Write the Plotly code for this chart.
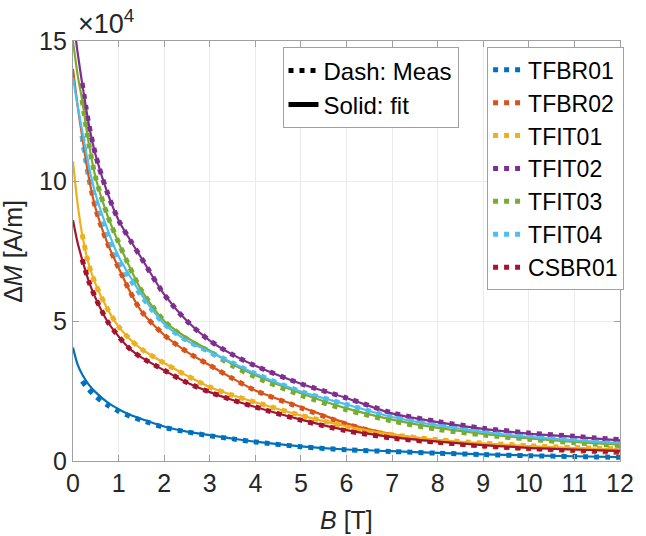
import plotly.graph_objects as go

# ---------------- data (Delta M in units of 1e4 A/m) ----------------
B_fit = [0, 0.1, 0.2, 0.35, 0.5, 0.75, 1, 1.25, 1.5, 2, 2.5, 3, 3.5, 4, 5, 6, 7, 8, 9, 10, 11, 12]
B_meas = [0.2, 0.35, 0.5, 0.75, 1, 1.25, 1.5, 2, 2.5, 3, 3.5, 4, 5, 6, 7, 8, 9, 10, 11, 12]

names = ["TFBR01", "TFBR02", "TFIT01", "TFIT02", "TFIT03", "TFIT04", "CSBR01"]
colors = ["#0072BD", "#D95319", "#EDB120", "#7E2F8E", "#77AC30", "#4DBEEE", "#A2142F"]

fit_TFBR01 = [4.05, 3.45, 3.10, 2.72, 2.45, 2.10, 1.85, 1.65, 1.50, 1.23, 1.05, 0.92, 0.80, 0.69, 0.52, 0.41, 0.35, 0.29, 0.24, 0.20, 0.17, 0.14]
fit_TFBR02 = [14.0, 12.7, 11.6, 10.1, 9.0, 7.8, 6.9, 6.05, 5.35, 4.5, 3.9, 3.42, 2.95, 2.52, 1.93, 1.35, 0.95, 0.74, 0.59, 0.50, 0.42, 0.35]
fit_TFIT01 = [10.7, 9.2, 8.1, 7.0, 6.3, 5.45, 4.8, 4.35, 4.0, 3.5, 3.05, 2.64, 2.35, 2.10, 1.63, 1.24, 0.95, 0.76, 0.63, 0.53, 0.46, 0.41]
fit_TFIT02 = [15.9, 14.6, 13.5, 12.0, 10.9, 9.6, 8.6, 7.9, 7.25, 5.95, 5.0, 4.3, 3.8, 3.4, 2.76, 2.25, 1.70, 1.39, 1.15, 0.98, 0.86, 0.74]
fit_TFIT03 = [15.0, 13.8, 12.9, 11.3, 10.1, 8.8, 7.8, 6.9, 6.1, 5.0, 4.4, 3.95, 3.45, 3.06, 2.42, 1.88, 1.48, 1.18, 0.97, 0.81, 0.68, 0.58]
fit_TFIT04 = [13.7, 12.7, 11.8, 10.5, 9.5, 8.3, 7.3, 6.6, 5.95, 4.9, 4.3, 3.9, 3.5, 3.12, 2.48, 2.02, 1.57, 1.27, 1.04, 0.86, 0.74, 0.64]
fit_CSBR01 = [8.6, 7.8, 7.2, 6.4, 5.8, 5.0, 4.45, 4.0, 3.7, 3.24, 2.8, 2.46, 2.18, 1.93, 1.48, 1.10, 0.85, 0.69, 0.57, 0.47, 0.41, 0.36]

meas_TFBR01 = [2.85, 2.55, 2.30, 2.00, 1.78, 1.60, 1.46, 1.20, 1.04, 0.90, 0.79, 0.68, 0.51, 0.40, 0.34, 0.28, 0.23, 0.19, 0.16, 0.13]
meas_TFBR02 = [11.6, 10.1, 9.0, 7.8, 6.9, 6.05, 5.35, 4.5, 3.9, 3.42, 2.95, 2.52, 1.90, 1.32, 0.90, 0.68, 0.53, 0.44, 0.37, 0.30]
meas_TFIT01 = [8.1, 7.0, 6.3, 5.45, 4.8, 4.35, 4.0, 3.5, 3.05, 2.64, 2.35, 2.10, 1.63, 1.24, 0.94, 0.76, 0.64, 0.55, 0.48, 0.43]
meas_TFIT02 = [13.5, 12.0, 10.9, 9.6, 8.6, 7.9, 7.25, 5.95, 5.0, 4.3, 3.8, 3.4, 2.76, 2.25, 1.72, 1.41, 1.17, 1.00, 0.88, 0.76]
meas_TFIT03 = [12.9, 11.3, 10.1, 8.8, 7.8, 6.9, 6.1, 5.0, 4.35, 3.9, 3.4, 3.0, 2.35, 1.83, 1.43, 1.13, 0.93, 0.78, 0.65, 0.55]
meas_TFIT04 = [11.6, 10.2, 9.3, 8.1, 7.2, 6.5, 5.9, 4.9, 4.3, 3.9, 3.5, 3.12, 2.48, 2.02, 1.57, 1.27, 1.04, 0.86, 0.74, 0.64]
meas_CSBR01 = [7.2, 6.4, 5.8, 5.0, 4.45, 4.0, 3.7, 3.24, 2.8, 2.46, 2.18, 1.93, 1.46, 1.08, 0.82, 0.67, 0.55, 0.46, 0.40, 0.35]

fits = [fit_TFBR01, fit_TFBR02, fit_TFIT01, fit_TFIT02, fit_TFIT03, fit_TFIT04, fit_CSBR01]
meas = [meas_TFBR01, meas_TFBR02, meas_TFIT01, meas_TFIT02, meas_TFIT03, meas_TFIT04, meas_CSBR01]

x_ticks = list(range(0, 13))
y_ticks = [0, 5, 10, 15]

TXT = "#262626"
AX = "#a0a0a0"
FONT = "Liberation Sans, Arial, sans-serif"
DOT = "5px,6px"

fig = go.Figure()

# legend 1 (style key)
fig.add_trace(go.Scatter(x=[None], y=[None], mode="lines", name="Dash: Meas",
                         line=dict(color="black", width=5, dash=DOT), legend="legend"))
fig.add_trace(go.Scatter(x=[None], y=[None], mode="lines", name="Solid: fit",
                         line=dict(color="black", width=5), legend="legend"))

# measured (dotted) in legend 2
for n, c, m in zip(names, colors, meas):
    fig.add_trace(go.Scatter(x=B_meas, y=m, mode="lines", name=n, legend="legend2",
                             line=dict(color=c, width=5, dash=DOT, shape="spline", smoothing=0.8)))
# fits (solid)
for n, c, f in zip(names, colors, fits):
    fig.add_trace(go.Scatter(x=B_fit, y=f, mode="lines", name=n + " fit", showlegend=False,
                             line=dict(color=c, width=2.2, shape="spline", smoothing=0.8)))

axis_common = dict(showline=True, linecolor=AX, linewidth=1.3, mirror="ticks",
                   ticks="inside", ticklen=6, tickcolor=AX, tickwidth=1.2,
                   showgrid=True, gridcolor="#ebebeb", gridwidth=1, zeroline=False,
                   tickfont=dict(family=FONT, size=25, color=TXT))

fig.update_layout(
    width=646, height=536,
    margin=dict(l=73, r=14, t=41, b=75),
    paper_bgcolor="white", plot_bgcolor="white",
    font=dict(family=FONT, color=TXT),
    xaxis=dict(range=[0, 12], tickvals=x_ticks, ticktext=[str(v) for v in x_ticks], **axis_common),
    yaxis=dict(range=[0, 15], tickvals=y_ticks, ticktext=[str(v) for v in y_ticks], **axis_common),
    legend=dict(x=0.383, y=0.985, xanchor="left", yanchor="top", bgcolor="white",
                bordercolor=AX, borderwidth=1, font=dict(family=FONT, size=24, color="black"),
                itemwidth=30, tracegroupgap=0),
    legend2=dict(x=0.757, y=0.985, xanchor="left", yanchor="top", bgcolor="white",
                 bordercolor=AX, borderwidth=1, font=dict(family=FONT, size=23, color="black"),
                 itemwidth=30, tracegroupgap=0),
    showlegend=True,
    annotations=[
        dict(text="×10<sup>4</sup>", xref="paper", yref="paper", x=0.005, y=1.0,
             xanchor="left", yanchor="bottom", showarrow=False,
             font=dict(family=FONT, size=27, color=TXT)),
        dict(text="<i>B</i> [T]", xref="paper", yref="paper", x=0.5, y=-0.14,
             xanchor="center", yanchor="middle", showarrow=False,
             font=dict(family=FONT, size=25, color=TXT)),
        dict(text="Δ<i>M</i> [A/m]", xref="paper", yref="paper", x=-0.11, y=0.5,
             xanchor="center", yanchor="middle", showarrow=False, textangle=-90,
             font=dict(family=FONT, size=25, color=TXT)),
    ],
)

fig.write_html("out.html")
